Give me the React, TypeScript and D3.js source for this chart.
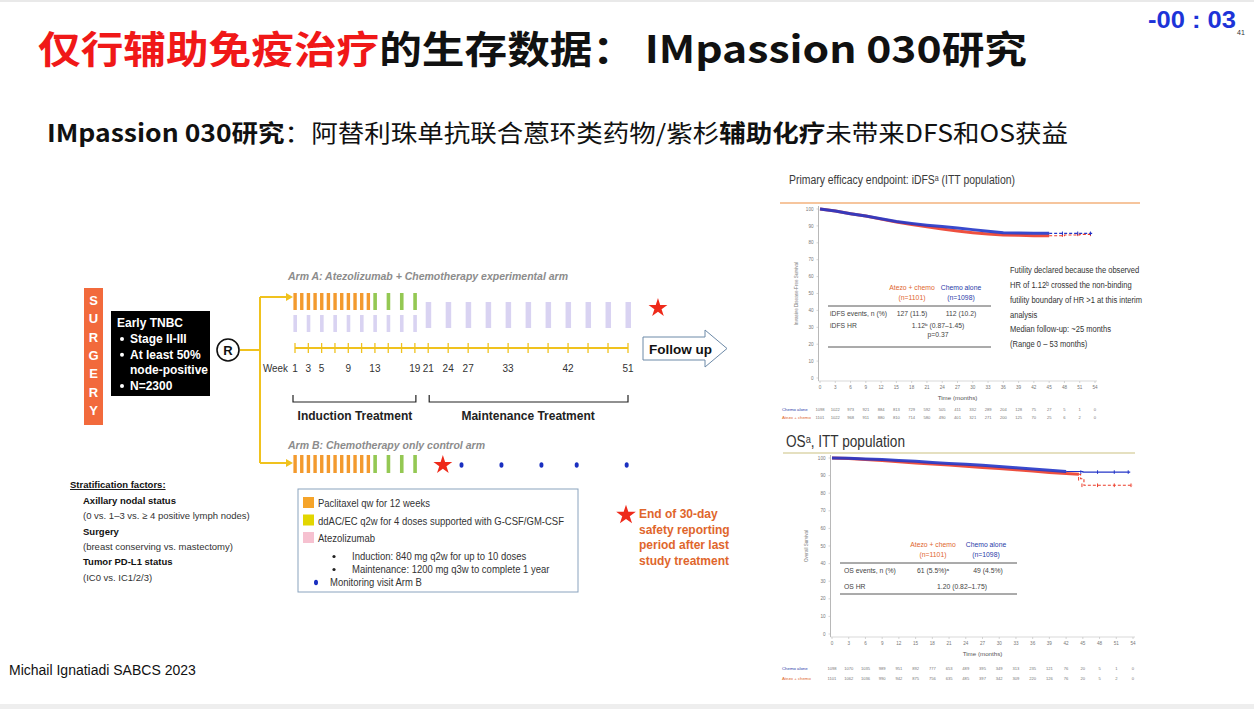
import React from 'react';
import * as d3 from 'd3';

// ---------------- Data ----------------
const titleRed = '仅行辅助免疫治疗';
const titleBlack = '的生存数据：  IMpassion 030研究';
const subtitleParts = [
  { t: 'IMpassion 030研究', b: true },
  { t: '：阿替利珠单抗联合蒽环类药物/紫杉', b: false },
  { t: '辅助化疗', b: true },
  { t: '未带来DFS和OS获益', b: false },
];

const weekLabels = [1, 3, 5, 9, 13, 19, 21, 24, 27, 33, 42, 51];
const inductionTicks = [1, 3, 5, 7, 9, 11, 13, 15, 17, 19];
const maintenanceTicks = [21, 24, 27, 30, 33, 36, 39, 42, 45, 48, 51];
const paclitaxelWeeks = [1, 2, 3, 4, 5, 6, 7, 8, 9, 10, 11, 12];
const ddacWeeks = [13, 15, 17, 19];
const atezoInductionWeeks = [1, 3, 5, 7, 9, 11, 13, 15, 17, 19];
const atezoMaintenanceWeeks = [21, 24, 27, 30, 33, 36, 39, 42, 45, 48, 51];
const monitoringWeeks = [26, 32, 38, 43.3, 50.8];
const armAStarWeek = 55.5;
const armBStarWeek = 23.2;

const surgeryLetters = ['S', 'U', 'R', 'G', 'E', 'R', 'Y'];
const tnbcBullets = ['Stage II-III', 'At least 50%', 'node-positive', 'N=2300'];
const tnbcBulletFlags = [true, true, false, true];

const stratLines = [
  { t: 'Axillary nodal status', b: true },
  { t: '(0 vs. 1–3 vs. ≥ 4 positive lymph nodes)', b: false },
  { t: 'Surgery', b: true },
  { t: '(breast conserving vs. mastectomy)', b: false },
  { t: 'Tumor PD-L1 status', b: true },
  { t: '(IC0 vs. IC1/2/3)', b: false },
];

const legendSwatches = [
  { label: 'Paclitaxel qw for 12 weeks', color: '#f5a42a' },
  { label: 'ddAC/EC q2w for 4 doses supported with G-CSF/GM-CSF', color: '#e2d600' },
  { label: 'Atezolizumab', color: '#f6c1d0' },
];
const legendBullets = ['Induction: 840 mg q2w for up to 10 doses', 'Maintenance: 1200 mg q3w to complete 1 year'];
const starNote = ['End of 30-day', 'safety reporting', 'period after last', 'study treatment'];

// iDFS KM (percent)
const idfsMonths = [0, 3, 6, 9, 12, 15, 18, 21, 24, 27, 30, 33, 36, 39, 42, 45, 48, 51, 53.5];
const idfsChemo = [100, 98.8, 97.2, 95.8, 94.2, 92.6, 91.4, 90.4, 89.6, 88.8, 87.8, 86.8, 86.0, 85.8, 85.6, 85.6, 85.6, 85.6, 85.6];
const idfsAtezo = [100, 98.8, 97.2, 95.8, 94.0, 92.3, 90.8, 89.5, 88.2, 87.0, 86.0, 85.2, 84.6, 84.4, 84.2, 84.2, 84.6, 85.0, 85.0];

// OS KM (percent)
const osChemoMonths = [0, 3, 6, 9, 12, 15, 18, 21, 24, 27, 30, 33, 36, 39, 42, 45, 48, 51, 53.5];
const osChemo = [100, 99.8, 99.5, 99.1, 98.6, 98.1, 97.5, 96.9, 96.4, 95.9, 95.2, 94.5, 93.8, 93.1, 92.3, 92.0, 92.0, 92.0, 92.0];
const osAtezoMonths = [0, 3, 6, 9, 12, 15, 18, 21, 24, 27, 30, 33, 36, 39, 42, 44.3, 44.6, 45.2, 48, 51, 54];
const osAtezo = [100, 99.7, 99.2, 98.6, 97.9, 97.2, 96.6, 96.0, 95.3, 94.6, 94.0, 93.3, 92.6, 91.8, 91.2, 90.8, 88.2, 84.5, 84.5, 84.5, 84.5];

const monthTicks = [0, 3, 6, 9, 12, 15, 18, 21, 24, 27, 30, 33, 36, 39, 42, 45, 48, 51, 54];
const pctTicks = [0, 10, 20, 30, 40, 50, 60, 70, 80, 90, 100];

const idfsRiskChemo = [1098, 1022, 973, 921, 884, 813, 729, 592, 505, 411, 332, 289, 204, 128, 75, 27, 5, 1, 0];
const idfsRiskAtezo = [1101, 1022, 968, 911, 880, 810, 714, 580, 490, 401, 321, 271, 200, 125, 70, 25, 6, 2, 0];
const osRiskChemo = [1098, 1070, 1035, 989, 951, 892, 777, 653, 489, 395, 349, 313, 235, 121, 76, 20, 5, 1, 0];
const osRiskAtezo = [1101, 1062, 1036, 990, 942, 875, 756, 635, 485, 397, 342, 309, 220, 126, 76, 20, 5, 2, 0];

const idfsNote = [
  'Futility declared because the observed',
  'HR of 1.12ᵇ crossed the non-binding',
  'futility boundary of HR >1 at this interim',
  'analysis',
  'Median follow-up: ~25 months',
  '(Range 0 – 53 months)',
];

// ---------------- Styles ----------------
const SANS = '"Liberation Sans", Arial, sans-serif';
const CJK = '"Noto Sans CJK SC", "Noto Sans", sans-serif';
const YELLOW = '#f0c21e';
const ORANGE = '#f39a2e';
const GREEN = '#94c853';
const LAVENDER = '#d9d3f2';
const KM_BLUE = '#2436c8';
const KM_RED = '#ec3d2a';
const TXT_ORANGE = '#e0662c';
const TXT_BLUE = '#2a3aa8';

function Star({ x, y, size, color }: { x: number; y: number; size: number; color: string }) {
  const d = d3.symbol().type(d3.symbolStar).size(size)() as string;
  return <path d={d} transform={`translate(${x},${y})`} fill={color} />;
}

type Series = { months: number[]; values: number[]; color: string; tailFrom: number; dashedTail: boolean };

function KM(props: {
  xr: [number, number];
  yr: [number, number];
  axisTop: number;
  series: Series[];
  yTitle: string;
  yTitleX: number;
  riskY: [number, number];
  riskChemo: number[];
  riskAtezo: number[];
}) {
  const { xr, yr, axisTop, series, yTitle, yTitleX, riskY, riskChemo, riskAtezo } = props;
  const x = d3.scaleLinear().domain([0, 54]).range(xr);
  const y = d3.scaleLinear().domain([0, 100]).range(yr);
  const axisX = xr[0] - 1.5;
  const axisY = yr[0] + 3;
  const line = d3
    .line<[number, number]>()
    .x((d) => x(d[0]))
    .y((d) => y(d[1]))
    .curve(d3.curveStepAfter);
  const lineLin = d3
    .line<[number, number]>()
    .x((d) => x(d[0]))
    .y((d) => y(d[1]))
    .curve(d3.curveLinear);
  return (
    <g fontFamily={SANS}>
      <line x1={axisX} x2={axisX} y1={axisTop} y2={axisY} stroke="#b8b8b8" strokeWidth={1} />
      <line x1={axisX} x2={xr[1] + 2} y1={axisY} y2={axisY} stroke="#cfcfcf" strokeWidth={0.8} />
      {pctTicks.map((t) => (
        <g key={t}>
          <line x1={axisX - 2} x2={axisX} y1={y(t)} y2={y(t)} stroke="#bbb" strokeWidth={0.6} />
          <text x={axisX - 5} y={y(t) + 1.6} fontSize={4.6} fill="#777" textAnchor="end">{t}</text>
        </g>
      ))}
      {monthTicks.map((t) => (
        <g key={t}>
          <line x1={x(t)} x2={x(t)} y1={axisY} y2={axisY + 2} stroke="#bbb" strokeWidth={0.6} />
          <text x={x(t)} y={axisY + 8} fontSize={4.6} fill="#777" textAnchor="middle">{t}</text>
        </g>
      ))}
      <text x={(xr[0] + xr[1]) / 2} y={axisY + 19} fontSize={6.2} fill="#555" textAnchor="middle">Time (months)</text>
      <text
        transform={`translate(${yTitleX},${(yr[0] + yr[1]) / 2}) rotate(-90)`}
        fontSize={4.6}
        fill="#777"
        textAnchor="middle"
      >
        {yTitle}
      </text>
      {series.map((s, i) => {
        const pts: [number, number][] = s.months.map((m, j) => [m, s.values[j]]);
        const head = pts.filter((p) => p[0] <= s.tailFrom);
        const tail = pts.filter((p) => p[0] >= s.tailFrom);
        return (
          <g key={i}>
            <path d={lineLin(head) as string} fill="none" stroke={s.color} strokeWidth={3} strokeOpacity={0.9} />
            <path
              d={line(tail) as string}
              fill="none"
              stroke={s.color}
              strokeWidth={1.1}
              strokeDasharray={s.dashedTail ? '3,2' : undefined}
            />
            {tail.slice(1).map((p, k) => (
              <line key={k} x1={x(p[0]) - 2} x2={x(p[0]) - 2} y1={y(p[1]) - 1.8} y2={y(p[1]) + 1.8} stroke={s.color} strokeWidth={1} />
            ))}
          </g>
        );
      })}
      <text x={782} y={riskY[0]} fontSize={4.3} fill={TXT_BLUE}>Chemo alone</text>
      <text x={782} y={riskY[1]} fontSize={4.3} fill={TXT_ORANGE}>Atezo + chemo</text>
      {monthTicks.map((t, j) => (
        <g key={t}>
          <text x={x(t)} y={riskY[0]} fontSize={4.1} fill="#777" textAnchor="middle">{riskChemo[j]}</text>
          <text x={x(t)} y={riskY[1]} fontSize={4.1} fill="#777" textAnchor="middle">{riskAtezo[j]}</text>
        </g>
      ))}
    </g>
  );
}

export default function App() {
  const wk = d3.scaleLinear().domain([1, 51]).range([295, 628]);
  const armAy = 297;
  const armBy = 463;
  const axisLineY = 348;
  const noteY = [273, 288, 303, 318, 332, 347];

  return (
    <svg
      width={1254}
      height={709}
      viewBox="0 0 1254 709"
      style={{ position: 'absolute', left: 0, top: 0, background: '#ffffff' }}
    >
      <rect x={0} y={0} width={1254} height={709} fill="#ffffff" />
      <rect x={0} y={0} width={1254} height={2} fill="#e9e9e9" />
      <rect x={0} y={704} width={1254} height={5} fill="#eeeeee" />

      {/* Title */}
      <text x={38} y={63} fontFamily={CJK} fontWeight={700} fontSize={38} textLength={989} lengthAdjust="spacingAndGlyphs">
        <tspan fill="#f01818">{titleRed}</tspan>
        <tspan fill="#111111">{titleBlack}</tspan>
      </text>
      <text x={1148} y={28} fontFamily={SANS} fontWeight={700} fontSize={23} fill="#1d34d8" textLength={88} lengthAdjust="spacingAndGlyphs">
        -00 : 03
      </text>
      <text x={1237} y={35} fontFamily={SANS} fontSize={7} fill="#333">41</text>

      {/* Subtitle */}
      <text x={47} y={142} fontFamily={CJK} fontSize={24} fill="#111" textLength={1021} lengthAdjust="spacingAndGlyphs">
        {subtitleParts.map((p, i) => (
          <tspan key={i} fontWeight={p.b ? 700 : 400}>{p.t}</tspan>
        ))}
      </text>

      {/* SURGERY box */}
      <rect x={84} y={288} width={19} height={137} fill="#f26a3c" />
      {surgeryLetters.map((l, i) => (
        <text key={i} x={93.5} y={305 + i * 18.3} fontFamily={SANS} fontWeight={700} fontSize={13} fill="#fff" textAnchor="middle">
          {l}
        </text>
      ))}

      {/* Early TNBC box */}
      <rect x={111} y={311} width={99} height={85} fill="#000" />
      <text x={117} y={327} fontFamily={SANS} fontWeight={700} fontSize={12} fill="#fff">Early TNBC</text>
      {tnbcBullets.map((b, i) => (
        <g key={i}>
          {tnbcBulletFlags[i] && <circle cx={122} cy={339 + i * 15.7} r={2} fill="#fff" />}
          <text x={130} y={343 + i * 15.7} fontFamily={SANS} fontWeight={700} fontSize={12} fill="#fff">{b}</text>
        </g>
      ))}

      {/* R circle and connectors */}
      <circle cx={228} cy={350} r={11} fill="#fff" stroke="#111" strokeWidth={1.6} />
      <text x={228} y={355} fontFamily={SANS} fontWeight={700} fontSize={13} textAnchor="middle" fill="#111">R</text>
      <line x1={240} x2={261} y1={350} y2={350} stroke={YELLOW} strokeWidth={2} />
      <line x1={260} x2={260} y1={armAy} y2={armBy} stroke={YELLOW} strokeWidth={2} />
      <line x1={260} x2={286} y1={armAy} y2={armAy} stroke={YELLOW} strokeWidth={2} />
      <path d={`M286,${armAy - 4} L293,${armAy} L286,${armAy + 4} Z`} fill={YELLOW} />
      <line x1={260} x2={286} y1={armBy} y2={armBy} stroke={YELLOW} strokeWidth={2} />
      <path d={`M286,${armBy - 4} L293,${armBy} L286,${armBy + 4} Z`} fill={YELLOW} />

      {/* Arm A */}
      <text x={288} y={280} fontFamily={SANS} fontStyle="italic" fontWeight={700} fontSize={11} fill="#8c8c8c" textLength={280} lengthAdjust="spacingAndGlyphs">
        Arm A: Atezolizumab + Chemotherapy experimental arm
      </text>
      {paclitaxelWeeks.map((w) => (
        <rect key={'pa' + w} x={wk(w) - 1.6} y={293} width={3.4} height={17} fill={ORANGE} />
      ))}
      {ddacWeeks.map((w) => (
        <rect key={'da' + w} x={wk(w) - 1.6} y={293} width={3.6} height={17} fill={GREEN} />
      ))}
      {atezoInductionWeeks.map((w) => (
        <rect key={'ai' + w} x={wk(w) - 1.6} y={315} width={3.6} height={17} fill={LAVENDER} />
      ))}
      {atezoMaintenanceWeeks.map((w) => (
        <rect key={'am' + w} x={wk(w) - 2.5} y={302} width={5.5} height={26} fill={LAVENDER} />
      ))}
      <Star x={wk(armAStarWeek)} y={308} size={110} color="#ee2a1a" />

      {/* Week axis */}
      <line x1={wk(1)} x2={wk(51)} y1={axisLineY} y2={axisLineY} stroke={YELLOW} strokeWidth={2} />
      {[...inductionTicks, ...maintenanceTicks].map((w) => (
        <line key={'t' + w} x1={wk(w)} x2={wk(w)} y1={axisLineY - 5} y2={axisLineY + 5} stroke={YELLOW} strokeWidth={1.3} />
      ))}
      <text x={263} y={372} fontFamily={SANS} fontSize={10} fill="#333" textLength={25} lengthAdjust="spacingAndGlyphs">Week</text>
      {weekLabels.map((w) => (
        <text key={'wl' + w} x={wk(w)} y={372} fontFamily={SANS} fontSize={10} fill="#333" textAnchor="middle">{w}</text>
      ))}

      {/* Follow up arrow */}
      <path d="M643,337 L705,337 L705,330 L727,348.5 L705,367 L705,360 L643,360 Z" fill="#fff" stroke="#6d8aa8" strokeWidth={1} />
      <text x={649} y={353.5} fontFamily={SANS} fontWeight={700} fontSize={13.5} fill="#111">Follow up</text>

      {/* Brackets */}
      <path d={`M${wk(1) - 2},395 V402 H${wk(19) + 1} V395`} fill="none" stroke="#222" strokeWidth={1.2} />
      <text x={(wk(1) + wk(19)) / 2} y={420} fontFamily={SANS} fontWeight={700} fontSize={12} fill="#222" textAnchor="middle">Induction Treatment</text>
      <path d={`M${wk(21) + 1},395 V402 H${wk(51)} V395`} fill="none" stroke="#222" strokeWidth={1.2} />
      <text x={(wk(21) + wk(51)) / 2} y={420} fontFamily={SANS} fontWeight={700} fontSize={12} fill="#222" textAnchor="middle">Maintenance Treatment</text>

      {/* Arm B */}
      <text x={288} y={449} fontFamily={SANS} fontStyle="italic" fontWeight={700} fontSize={11} fill="#8c8c8c" textLength={197} lengthAdjust="spacingAndGlyphs">
        Arm B: Chemotherapy only control arm
      </text>
      {paclitaxelWeeks.map((w) => (
        <rect key={'pb' + w} x={wk(w) - 1.6} y={455} width={3.4} height={18} fill={ORANGE} />
      ))}
      {ddacWeeks.map((w) => (
        <rect key={'db' + w} x={wk(w) - 1.6} y={455} width={3.6} height={18} fill={GREEN} />
      ))}
      <Star x={wk(armBStarWeek)} y={465} size={110} color="#ee2a1a" />
      {monitoringWeeks.map((w) => (
        <ellipse key={'m' + w} cx={wk(w)} cy={465} rx={2} ry={2.8} fill="#1a2fc0" />
      ))}

      {/* Legend box */}
      <rect x={298} y={489} width={280} height={103} fill="#fff" stroke="#8aa3be" strokeWidth={1} />
      {legendSwatches.map((s, i) => (
        <g key={i}>
          <rect x={303} y={497 + i * 17.5} width={11} height={11} fill={s.color} />
          <text transform={`translate(318,${507 + i * 17.5}) scale(0.95,1)`} fontFamily={SANS} fontSize={10} fill="#333">{s.label}</text>
        </g>
      ))}
      {legendBullets.map((b, i) => (
        <g key={i}>
          <circle cx={334} cy={556.5 + i * 13} r={1.6} fill="#222" />
          <text transform={`translate(352,${560 + i * 13}) scale(0.95,1)`} fontFamily={SANS} fontSize={10} fill="#333">{b}</text>
        </g>
      ))}
      <ellipse cx={316} cy={582.5} rx={2} ry={2.8} fill="#1a2fc0" />
      <text transform="translate(330,586) scale(0.95,1)" fontFamily={SANS} fontSize={10} fill="#333">Monitoring visit Arm B</text>

      {/* Star note */}
      <Star x={626} y={515} size={120} color="#ee2a1a" />
      {starNote.map((t, i) => (
        <text key={i} x={639} y={518 + i * 15.5} fontFamily={SANS} fontWeight={700} fontSize={12} fill={TXT_ORANGE}>{t}</text>
      ))}

      {/* Stratification */}
      <text x={70} y={488} fontFamily={SANS} fontWeight={700} fontSize={9.5} fill="#111" textDecoration="underline">Stratification factors:</text>
      {stratLines.map((l, i) => (
        <text key={i} x={83} y={504 + i * 15.3} fontFamily={SANS} fontWeight={l.b ? 700 : 400} fontSize={9.5} fill={l.b ? '#111' : '#333'}>
          {l.t}
        </text>
      ))}

      {/* Footer */}
      <text x={9} y={675} fontFamily={SANS} fontSize={14} fill="#111">Michail Ignatiadi SABCS 2023</text>

      {/* iDFS panel */}
      <text x={789} y={184} fontFamily={SANS} fontSize={12} fill="#3a3a3a" textLength={226} lengthAdjust="spacingAndGlyphs">
        {'Primary efficacy endpoint: iDFSᵃ (ITT population)'}
      </text>
      <line x1={780} x2={1140} y1={203} y2={203} stroke="#f3b27c" strokeWidth={1.4} />
      <KM
        xr={[820, 1095]}
        yr={[378, 209]}
        axisTop={206}
        yTitle="Invasive Disease-Free Survival"
        yTitleX={798}
        riskY={[411, 419]}
        riskChemo={idfsRiskChemo}
        riskAtezo={idfsRiskAtezo}
        series={[
          { months: idfsMonths, values: idfsAtezo, color: KM_RED, tailFrom: 45, dashedTail: true },
          { months: idfsMonths, values: idfsChemo, color: KM_BLUE, tailFrom: 45, dashedTail: true },
        ]}
      />
      <g fontFamily={SANS} fontSize={6.8}>
        <text x={912} y={290} fill={TXT_ORANGE} textAnchor="middle">Atezo + chemo</text>
        <text x={912} y={300} fill={TXT_ORANGE} textAnchor="middle">(n=1101)</text>
        <text x={961} y={290} fill={TXT_BLUE} textAnchor="middle">Chemo alone</text>
        <text x={961} y={300} fill={TXT_BLUE} textAnchor="middle">(n=1098)</text>
        <line x1={828} x2={991} y1={306} y2={306} stroke="#444" strokeWidth={0.9} />
        <text x={830} y={316} fill="#444">iDFS events, n (%)</text>
        <text x={912} y={316} fill="#444" textAnchor="middle">127 (11.5)</text>
        <text x={961} y={316} fill="#444" textAnchor="middle">112 (10.2)</text>
        <text x={830} y={328} fill="#444">iDFS HR</text>
        <text x={938} y={328} fill="#444" textAnchor="middle">{'1.12ᵇ (0.87–1.45)'}</text>
        <text x={938} y={337} fill="#444" textAnchor="middle">p=0.37</text>
        <line x1={828} x2={991} y1={347} y2={347} stroke="#444" strokeWidth={0.9} />
      </g>
      {idfsNote.map((t, i) => (
        <text key={i} transform={`translate(1010,${noteY[i]}) scale(0.86,1)`} fontFamily={SANS} fontSize={8.8} fill="#333">
          {t}
        </text>
      ))}

      {/* OS panel */}
      <text x={786} y={447} fontFamily={SANS} fontSize={16} fill="#333" textLength={119} lengthAdjust="spacingAndGlyphs">
        {'OSᵃ, ITT population'}
      </text>
      <line x1={783} x2={1135} y1={453} y2={453} stroke="#dcd6ab" strokeWidth={1.3} />
      <KM
        xr={[832, 1133]}
        yr={[634, 458]}
        axisTop={455}
        yTitle="Overall Survival"
        yTitleX={808}
        riskY={[670, 680]}
        riskChemo={osRiskChemo}
        riskAtezo={osRiskAtezo}
        series={[
          { months: osAtezoMonths, values: osAtezo, color: KM_RED, tailFrom: 44.3, dashedTail: true },
          { months: osChemoMonths, values: osChemo, color: KM_BLUE, tailFrom: 42, dashedTail: false },
        ]}
      />
      <g fontFamily={SANS} fontSize={6.8}>
        <text x={933} y={547} fill={TXT_ORANGE} textAnchor="middle">Atezo + chemo</text>
        <text x={933} y={557} fill={TXT_ORANGE} textAnchor="middle">(n=1101)</text>
        <text x={986} y={547} fill={TXT_BLUE} textAnchor="middle">Chemo alone</text>
        <text x={986} y={557} fill={TXT_BLUE} textAnchor="middle">(n=1098)</text>
        <line x1={840} x2={1017} y1={563} y2={563} stroke="#444" strokeWidth={0.9} />
        <text x={844} y={573} fill="#444">OS events, n (%)</text>
        <text x={933} y={573} fill="#444" textAnchor="middle">{'61 (5.5%)ᵃ'}</text>
        <text x={988} y={573} fill="#444" textAnchor="middle">49 (4.5%)</text>
        <text x={844} y={589} fill="#444">OS HR</text>
        <text x={962} y={589} fill="#444" textAnchor="middle">{'1.20 (0.82–1.75)'}</text>
        <line x1={840} x2={1017} y1={594} y2={594} stroke="#444" strokeWidth={0.9} />
      </g>
    </svg>
  );
}
